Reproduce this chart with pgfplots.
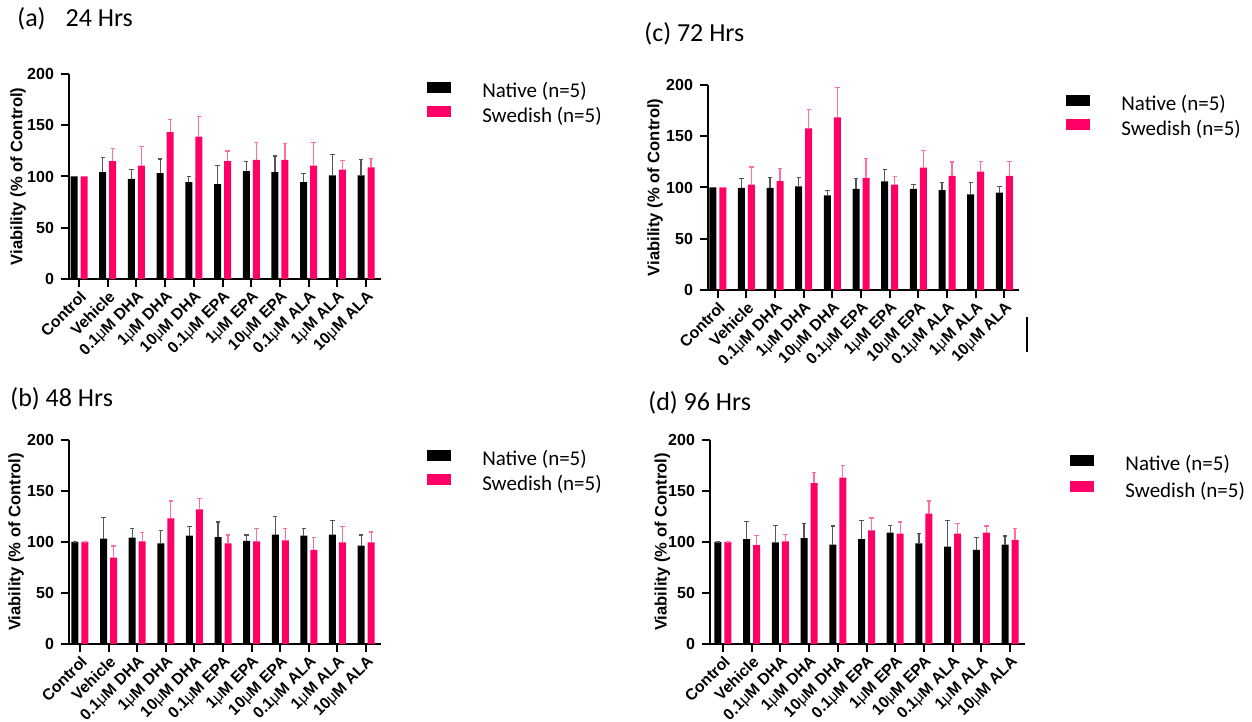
\documentclass[border=0pt]{standalone}
\usepackage{fontspec}
\setmainfont{Liberation Sans}
\newfontfamily\calibri{Carlito}
\usepackage{pgfplots}
\pgfplotsset{compat=1.18}
\definecolor{pinkbar}{RGB}{255,0,102}
\definecolor{pinkerr}{RGB}{255,110,160}
\definecolor{blackerr}{RGB}{85,85,85}
\pgfplotsset{
  panel/.style={
    scale only axis,
    ymin=0, ymax=200, ytick={0,50,100,150,200},
    xtick={0,...,10},
    xticklabels={Control,Vehicle,0.1{\mdseries μ}M DHA,1{\mdseries μ}M DHA,10{\mdseries μ}M DHA,0.1{\mdseries μ}M EPA,1{\mdseries μ}M EPA,10{\mdseries μ}M EPA,0.1{\mdseries μ}M ALA,1{\mdseries μ}M ALA,10{\mdseries μ}M ALA},
    axis x line*=bottom, axis y line*=left,
    axis line style={line width=1pt},
    every tick/.style={line width=1pt, black},
    major tick length=4pt,
    tick align=outside,
    /pgf/number format/assume math mode=true,
    x tick label style={rotate=45, anchor=north east, font=\bfseries\fontsize{7.9}{9}\selectfont, inner sep=0.8pt},
    y tick label style={font=\bfseries\fontsize{8}{9}\selectfont},
    ylabel={Viability (\% of Control)},
    ylabel style={font=\bfseries\fontsize{8.3}{9}\selectfont, anchor=center},
    ybar=1.5pt, bar width=3.5pt,
    legend style={draw=none, fill=none, inner sep=0pt, row sep=-1pt, column sep=13.5pt,
      font=\calibri\fontsize{10.5}{12}\selectfont,
      anchor=north west},
    legend cell align=left,
  },
  nat/.style={fill=black, draw=none,
    error bars/y dir=plus, error bars/y explicit,
    error bars/error bar style={line width=0.6pt, blackerr},
    error bars/error mark options={rotate=90, mark size=1.1pt, line width=0.6pt, blackerr},
    legend image code/.code={\fill[black] (0pt,-0.5pt) rectangle (12pt,5pt);}},
  swe/.style={fill=pinkbar, draw=none,
    error bars/y dir=plus, error bars/y explicit,
    error bars/error bar style={line width=0.6pt, pinkerr},
    error bars/error mark options={rotate=90, mark size=1.1pt, line width=0.6pt, pinkerr},
    legend image code/.code={\fill[pinkbar] (0pt,-0.5pt) rectangle (12pt,5pt);}},
}
\begin{document}
\begin{tikzpicture}
\useasboundingbox (0,0) rectangle (626pt,361pt);
% (a) 24 Hrs
\node[anchor=base west, inner sep=0pt, font=\calibri\fontsize{13}{15}\selectfont] at (8.5pt,347.5pt) {(a)\hspace{10pt}24 Hrs};
\begin{axis}[panel, at={(34.5pt,221.5pt)}, anchor=south west, width=156pt, height=102.5pt,
  xmin=-0.35, xmax=10.52,
  ylabel style={at={(axis description cs:-0.163,0.5)}},
  legend style={at={(1.147,0.98)}}]
\addplot[nat] coordinates {
(0,100) +- (0,0) (1,104.2) +- (0,14.4) (2,97.7) +- (0,8.8) (3,103.3) +- (0,13.7)
(4,94.5) +- (0,5.5) (5,92.5) +- (0,17.9) (6,105.2) +- (0,9.1) (7,104.2) +- (0,15.7)
(8,94.5) +- (0,8.5) (9,101) +- (0,20.2) (10,101) +- (0,15.3)};
\addplot[swe] coordinates {
(0,100) +- (0,0) (1,115) +- (0,12.4) (2,110.7) +- (0,18.3) (3,143.3) +- (0,12.4)
(4,138.8) +- (0,19.8) (5,115) +- (0,9.8) (6,116.3) +- (0,16.6) (7,116.3) +- (0,15.6)
(8,110.7) +- (0,22.2) (9,106.8) +- (0,8.5) (10,108.8) +- (0,8.8)};
\legend{Native (n=5),Swedish (n=5)}
\end{axis}
% (c) 72 Hrs
\node[anchor=base west, inner sep=0pt, font=\calibri\fontsize{13}{15}\selectfont] at (322pt,340pt) {(c) 72 Hrs};
\begin{axis}[panel, at={(354pt,216pt)}, anchor=south west, width=155.5pt, height=102.5pt,
  xmin=-0.34, xmax=10.51,
  ylabel style={at={(axis description cs:-0.17,0.5)}},
  legend style={at={(1.151,0.97)}}]
\addplot[nat] coordinates {
(0,100) +- (0,0) (1,99.7) +- (0,9.1) (2,99.7) +- (0,9.7) (3,101) +- (0,8.4)
(4,92.2) +- (0,4.8) (5,98.7) +- (0,10.1) (6,105.9) +- (0,11.7) (7,98.7) +- (0,3.9)
(8,97.4) +- (0,7.2) (9,93.2) +- (0,11.4) (10,95.1) +- (0,6.2)};
\addplot[swe] coordinates {
(0,100) +- (0,0) (1,102.9) +- (0,17) (2,106.2) +- (0,12.7) (3,157.7) +- (0,18.5)
(4,168.4) +- (0,29.3) (5,109.4) +- (0,18.9) (6,102.9) +- (0,8.2) (7,119.5) +- (0,16.3)
(8,111.4) +- (0,13.4) (9,115.6) +- (0,10.1) (10,111.4) +- (0,13.7)};
\legend{Native (n=5),Swedish (n=5)}
\end{axis}
\draw[line width=1pt] (513.5pt,202.5pt) -- (513.5pt,185pt);
% (b) 48 Hrs
\node[anchor=base west, inner sep=0pt, font=\calibri\fontsize{13}{15}\selectfont] at (5pt,157.5pt) {(b) 48 Hrs};
\begin{axis}[panel, at={(34.5pt,39pt)}, anchor=south west, width=156pt, height=102pt,
  xmin=-0.38, xmax=10.52,
  ylabel style={at={(axis description cs:-0.17,0.5)}},
  legend style={at={(1.147,0.97)}}]
\addplot[nat] coordinates {
(0,100) +- (0,0) (1,103.3) +- (0,20.6) (2,104.2) +- (0,9.2) (3,98.7) +- (0,12.4)
(4,106.2) +- (0,8.8) (5,104.9) +- (0,14.7) (6,101) +- (0,5.9) (7,107.2) +- (0,17.6)
(8,106.2) +- (0,6.9) (9,107.2) +- (0,14) (10,96.4) +- (0,10.5)};
\addplot[swe] coordinates {
(0,100) +- (0,0) (1,84.6) +- (0,11.4) (2,100.7) +- (0,8.5) (3,123.2) +- (0,17)
(4,132) +- (0,10.8) (5,98.7) +- (0,8.2) (6,100.7) +- (0,12.4) (7,101.6) +- (0,11.5)
(8,92.2) +- (0,12) (9,99.7) +- (0,15.3) (10,99.7) +- (0,10.1)};
\legend{Native (n=5),Swedish (n=5)}
\end{axis}
% (d) 96 Hrs
\node[anchor=base west, inner sep=0pt, font=\calibri\fontsize{13}{15}\selectfont] at (324pt,155.5pt) {(d) 96 Hrs};
\begin{axis}[panel, at={(355pt,39pt)}, anchor=south west, width=157.5pt, height=102pt,
  xmin=-0.45, xmax=10.52,
  ylabel style={at={(axis description cs:-0.151,0.5)}},
  legend style={at={(1.143,0.945)}, row sep=0pt}]
\addplot[nat] coordinates {
(0,100) +- (0,0) (1,102.9) +- (0,17) (2,99.7) +- (0,16.6) (3,103.9) +- (0,14.4)
(4,97.4) +- (0,18.3) (5,102.9) +- (0,18) (6,109.2) +- (0,7.1) (7,98.7) +- (0,9.8)
(8,95.4) +- (0,25.5) (9,92.2) +- (0,12.4) (10,97.4) +- (0,8.5)};
\addplot[swe] coordinates {
(0,100) +- (0,0) (1,97) +- (0,9.5) (2,100.7) +- (0,6.8) (3,157.8) +- (0,10.2)
(4,163) +- (0,12.2) (5,111.4) +- (0,12.1) (6,108.2) +- (0,11.4) (7,127.8) +- (0,12.4)
(8,108.2) +- (0,9.8) (9,109.2) +- (0,6.5) (10,102) +- (0,11)};
\legend{Native (n=5),Swedish (n=5)}
\end{axis}
\end{tikzpicture}
\end{document}
